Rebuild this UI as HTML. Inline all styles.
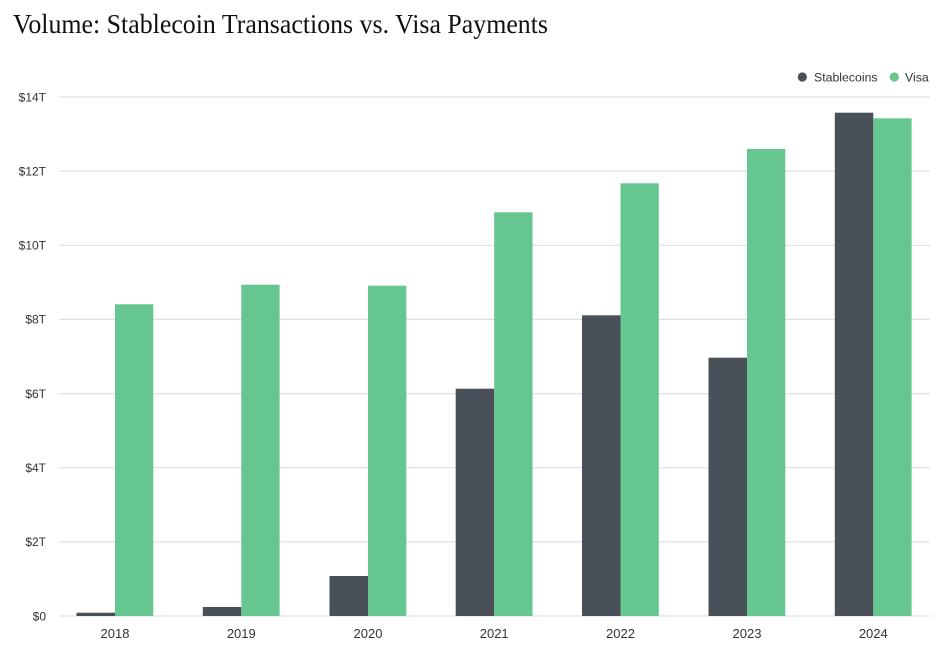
<!DOCTYPE html>
<html>
<head>
<meta charset="utf-8">
<style>
  html,body{margin:0;padding:0;background:#fff;}
  svg{display:block;}
</style>
</head>
<body>
<svg width="943" height="657" viewBox="0 0 943 657" xmlns="http://www.w3.org/2000/svg">
  <rect width="943" height="657" fill="#fff"/>
  <text x="13" y="33" font-family="Liberation Serif, serif" font-size="27" fill="#111" textLength="535" lengthAdjust="spacingAndGlyphs">Volume: Stablecoin Transactions vs. Visa Payments</text>

  <!-- legend -->
  <circle cx="802.3" cy="77" r="4.6" fill="#4a5058"/>
  <text x="814" y="81.5" font-family="Liberation Sans, sans-serif" font-size="12.3" fill="#333">Stablecoins</text>
  <circle cx="894.3" cy="77" r="4.6" fill="#66c68f"/>
  <text x="905" y="81.5" font-family="Liberation Sans, sans-serif" font-size="12.3" fill="#333">Visa</text>

  <!-- gridlines -->
  <g stroke="#e0e0e0" stroke-width="1.2">
    <line x1="59" x2="930" y1="97" y2="97"/>
    <line x1="59" x2="930" y1="171.1" y2="171.1"/>
    <line x1="59" x2="930" y1="245.3" y2="245.3"/>
    <line x1="59" x2="930" y1="319.4" y2="319.4"/>
    <line x1="59" x2="930" y1="393.6" y2="393.6"/>
    <line x1="59" x2="930" y1="467.7" y2="467.7"/>
    <line x1="59" x2="930" y1="541.9" y2="541.9"/>
    <line x1="59" x2="930" y1="616" y2="616"/>
  </g>

  <!-- y labels -->
  <g font-family="Liberation Sans, sans-serif" font-size="12" fill="#333" text-anchor="end">
    <text x="46" y="101.3">$14T</text>
    <text x="46" y="175.4">$12T</text>
    <text x="46" y="249.6">$10T</text>
    <text x="46" y="323.7">$8T</text>
    <text x="46" y="397.9">$6T</text>
    <text x="46" y="472">$4T</text>
    <text x="46" y="546.2">$2T</text>
    <text x="46" y="620.3">$0</text>
  </g>

  <!-- stablecoin bars -->
  <g fill="#4a5058">
    <rect x="76.5" y="612.7" width="38.5" height="3.3"/>
    <rect x="202.8" y="607" width="38.5" height="9"/>
    <rect x="329.5" y="576" width="38.5" height="40"/>
    <rect x="455.7" y="388.7" width="38.5" height="227.3"/>
    <rect x="582" y="315.3" width="38.5" height="300.7"/>
    <rect x="708.5" y="357.7" width="38.5" height="258.3"/>
    <rect x="834.8" y="112.7" width="38.5" height="503.3"/>
  </g>
  <!-- visa bars -->
  <g fill="#66c68f">
    <rect x="115" y="304.3" width="38.3" height="311.7"/>
    <rect x="241.3" y="284.7" width="38.3" height="331.3"/>
    <rect x="368" y="285.7" width="38.3" height="330.3"/>
    <rect x="494.2" y="212.3" width="38.3" height="403.7"/>
    <rect x="620.5" y="183.3" width="38.3" height="432.7"/>
    <rect x="747" y="149" width="38.3" height="467"/>
    <rect x="873.3" y="118.3" width="38.3" height="497.7"/>
  </g>

  <!-- x labels -->
  <g font-family="Liberation Sans, sans-serif" font-size="13" fill="#333" text-anchor="middle">
    <text x="115" y="638">2018</text>
    <text x="241.3" y="638">2019</text>
    <text x="368" y="638">2020</text>
    <text x="494.2" y="638">2021</text>
    <text x="620.5" y="638">2022</text>
    <text x="747" y="638">2023</text>
    <text x="873.3" y="638">2024</text>
  </g>
</svg>
</body>
</html>
